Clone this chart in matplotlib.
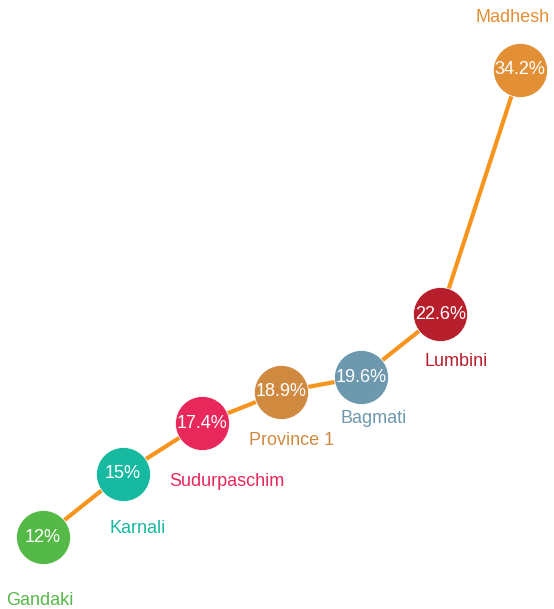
# Share of population by province, drawn as a rising line of bubbles

import matplotlib.pyplot as plt

provinces = ["Gandaki", "Karnali", "Sudurpaschim", "Province 1", "Bagmati", "Lumbini", "Madhesh"]
values = [12, 15, 17.4, 18.9, 19.6, 22.6, 34.2]
value_labels = ["12%", "15%", "17.4%", "18.9%", "19.6%", "22.6%", "34.2%"]

colors = ["#55b947", "#17b9a0", "#e8275a", "#d08a40", "#6d98ad", "#b81f2c", "#e38f35"]
# label offsets in points from the bubble centre
label_offsets = [(-2, -46), (11, -39), (18, -42), (7, -35), (9, -30), (11, -34), (-5, 38)]

plt.rcParams["font.family"] = ["Liberation Sans", "DejaVu Sans"]

fig = plt.figure(figsize=(5.54, 6.09), dpi=100)
ax = fig.add_axes([0, 0, 1, 1])

x = list(range(len(provinces)))
ax.plot(x, values, color="#f7941d", linewidth=3, zorder=1)

for i, (name, v) in enumerate(zip(provinces, values)):
    ax.plot(i, v, marker="o", markersize=39, color=colors[i],
            markeredgecolor="white", markeredgewidth=0.6, zorder=2)
    ax.text(i, v, value_labels[i], color="white", fontsize=13,
            ha="center", va="center", zorder=3)
    dx, dy = label_offsets[i]
    ax.annotate(name, (i, v), xytext=(dx, dy), textcoords="offset points",
                color=colors[i], fontsize=13, ha="center", va="center")

ax.set_xlim(-0.541, 6.428)
ax.set_ylim(8.578, 37.527)
ax.axis("off")

fig.savefig("out.png", dpi=100)
